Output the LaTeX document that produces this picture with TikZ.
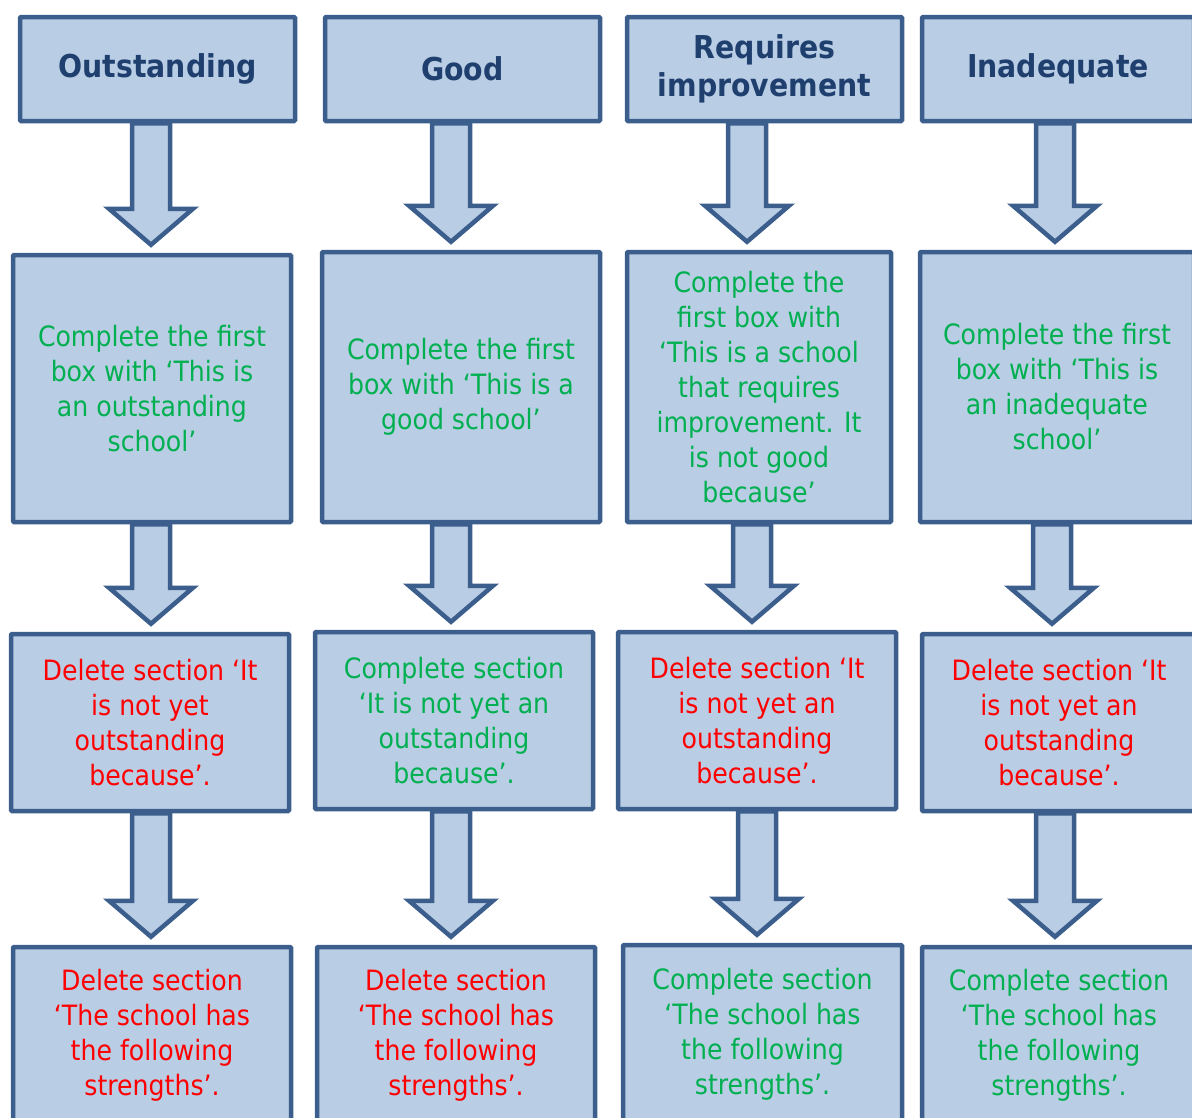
\documentclass[tikz,border=0pt]{standalone}
\usepackage{fontspec}
\setmainfont{DejaVu Sans Condensed}
\usetikzlibrary{calc,backgrounds}

\definecolor{boxfill}{HTML}{B9CDE5}
\definecolor{boxline}{HTML}{3B5E8C}
\definecolor{headtext}{HTML}{1F3F6E}
\definecolor{dogreen}{HTML}{00B050}
\definecolor{dored}{HTML}{FF0000}

\tikzset{
	box/.style 2 args={draw=boxline, fill=boxfill, line width=4.5pt, rounded corners=1pt, align=center, inner sep=0pt, minimum width=#1, minimum height=#2},
	head/.style={font=\fontsize{31.5}{38}\selectfont\bfseries, text=headtext},
	keep/.style={font=\fontsize{28}{35}\selectfont, text=dogreen},
	drop/.style={font=\fontsize{28}{35}\selectfont, text=dored},
	blockarrow/.style={draw=boxline, fill=boxfill, line width=4.5pt, line join=miter,
		to path={let \p1=(\tikztostart), \p2=(\tikztotarget) in
			({\x1-19pt},\y1) -- ({\x1-19pt},{\y2+44pt}) -- ({\x1-42pt},{\y2+44pt}) -- (\x1,{\y2+8pt})
			-- ({\x1+42pt},{\y2+44pt}) -- ({\x1+19pt},{\y2+44pt}) -- ({\x1+19pt},\y1) -- cycle}}
}

\begin{document}
\begin{tikzpicture}[x=1pt, y=-1pt]
	\useasboundingbox (0,0) rectangle (1192,1117);
	\clip (0,0) rectangle (1192,1117);
	% grades
	\node[box={275pt}{104pt}, head] (t1) at (157.5,69) {Outstanding};
	\node[box={275pt}{104pt}, head] (t2) at (462.5,69) {Good};
	\node[box={275pt}{104pt}, head] (t3) at (764.5,69) {Requires\\improvement};
	\node[box={272pt}{104pt}, head] (t4) at (1058,69) {Inadequate};
	% first box
	\node[box={278pt}{267pt}, keep] (c1) at (152,388.5) {Complete the first\\box with `This is\\an outstanding\\school'};
	\node[box={278pt}{270pt}, keep] (c2) at (461,387) {Complete the first\\box with `This is a\\good school'};
	\node[box={264pt}{270pt}, keep] (c3) at (759,387) {Complete the\\first box with\\`This is a school\\that requires\\improvement. It\\is not good\\because'};
	\node[box={274pt}{270pt}, keep] (c4) at (1057,387) {Complete the first\\box with `This is\\an inadequate\\school'};
	% not yet section
	\node[box={278pt}{177pt}, drop] (n1) at (150,722.5) {Delete section `It\\is not yet\\outstanding\\because'.};
	\node[box={278pt}{177pt}, keep] (n2) at (454,720.5) {Complete section\\`It is not yet an\\outstanding\\because'.};
	\node[box={278pt}{177pt}, drop] (n3) at (757,720.5) {Delete section `It\\is not yet an\\outstanding\\because'.};
	\node[box={274pt}{177pt}, drop] (n4) at (1059,722.5) {Delete section `It\\is not yet an\\outstanding\\because'.};
	% strengths section
	\node[box={278pt}{176pt}, drop] (s1) at (152,1035) {Delete section\\`The school has\\the following\\strengths'.};
	\node[box={278pt}{176pt}, drop] (s2) at (456,1035) {Delete section\\`The school has\\the following\\strengths'.};
	\node[box={279pt}{178pt}, keep] (s3) at (762.5,1034) {Complete section\\`The school has\\the following\\strengths'.};
	\node[box={274pt}{176pt}, keep] (s4) at (1059,1035) {Complete section\\`The school has\\the following\\strengths'.};
	% arrows
	\begin{scope}[on background layer]
		\foreach \s/\t/\x in {t1/c1/151, c1/n1/151, n1/s1/151, t2/c2/451, c2/n2/451, n2/s2/451,
			t3/c3/747, c3/n3/752, n3/s3/757, t4/c4/1055, c4/n4/1052, n4/s4/1055} {
			\coordinate (ax) at (\x,0);
			\draw[blockarrow] (\s.south -| ax) to (\t.north -| ax);
		}
	\end{scope}
\end{tikzpicture}
\end{document}
